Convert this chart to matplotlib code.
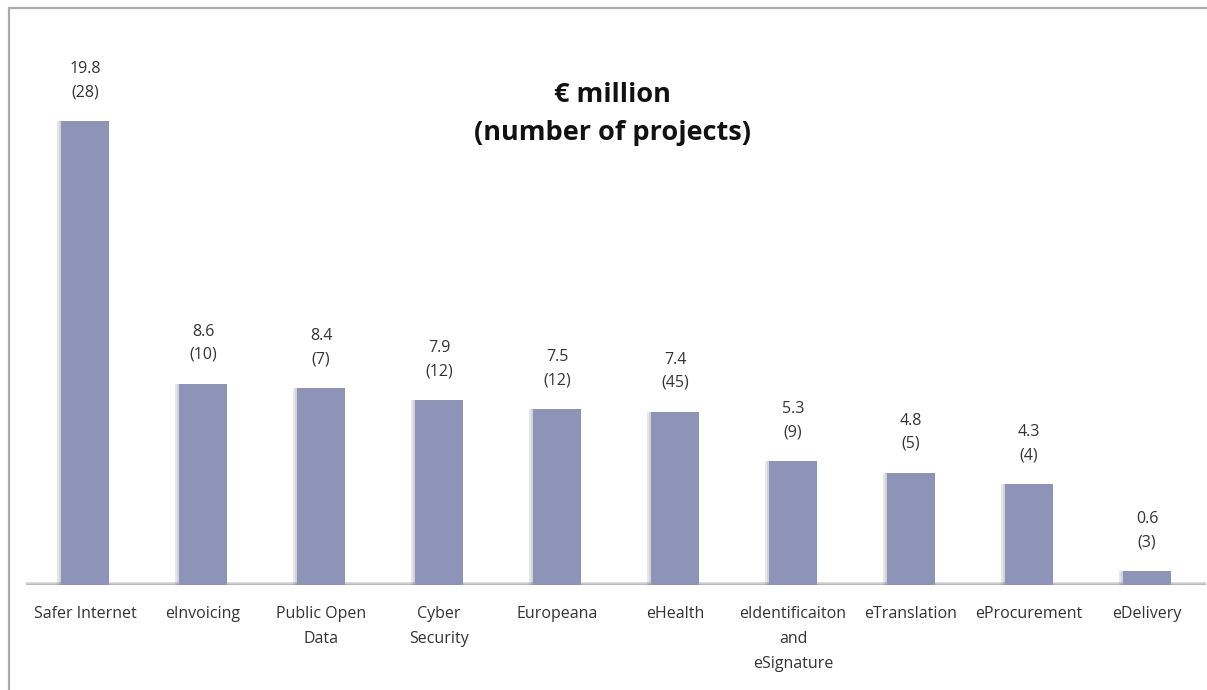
import matplotlib.pyplot as plt
from matplotlib.patches import Rectangle

# ===== data =====
categories = [
    "Safer Internet",
    "eInvoicing",
    "Public Open\nData",
    "Cyber\nSecurity",
    "Europeana",
    "eHealth",
    "eIdentificaiton\nand\neSignature",
    "eTranslation",
    "eProcurement",
    "eDelivery",
]
funding = [19.8, 8.6, 8.4, 7.9, 7.5, 7.4, 5.3, 4.8, 4.3, 0.6]
projects = [28, 10, 7, 12, 12, 45, 9, 5, 4, 3]

BAR_COLOR = "#8e94b8"
TEXT_COLOR = "#333333"

plt.rcParams["font.family"] = ["Open Sans", "DejaVu Sans"]

W, H = 1207, 690
fig = plt.figure(figsize=(W / 100, H / 100), dpi=100)

# grey frame (only top and left edges visible in the picture)
fig.patches.append(Rectangle((9 / W, -0.1), 1.2, 1 - 8 / H + 0.1,
                             transform=fig.transFigure, fill=False,
                             edgecolor="#aaaaaa", lw=1.6))

ax = fig.add_axes([26 / W, 105 / H, 1180 / W, 515 / H])
x = list(range(len(categories)))

# soft shadow to the left of each bar
ax.bar([i - 0.035 for i in x], funding, width=0.41, color="#55586a",
       alpha=0.14, zorder=1)
ax.bar([i - 0.018 for i in x], funding, width=0.41, color="#55586a",
       alpha=0.14, zorder=1)
ax.bar(x, funding, width=0.41, color=BAR_COLOR, zorder=2)

# baseline shadow
ax.axhline(0, color="#d0d0d0", lw=4, zorder=0)
ax.axhline(0, color="#b8b8b8", lw=1.5, zorder=0)

for xi, v, n in zip(x, funding, projects):
    ax.annotate(f"{v}\n({n})", (xi, v), xytext=(0, 15),
                textcoords="offset points", ha="center", va="bottom",
                fontsize=11.5, color=TEXT_COLOR, linespacing=1.6)

ax.set_xlim(-0.5, 9.5)
ax.set_ylim(0, 22)
ax.set_xticks(x)
ax.set_xticklabels(categories, fontsize=11.5, color=TEXT_COLOR,
                   linespacing=1.75, va="top")
ax.tick_params(axis="x", length=0, pad=15)
ax.set_yticks([])
for s in ax.spines.values():
    s.set_visible(False)

fig.text(612 / W, 1 - 114 / H, "€ million\n(number of projects)",
         ha="center", va="center", fontsize=19.5, fontweight="bold",
         color="#111111", linespacing=1.6)

fig.savefig("out.png", dpi=100)
